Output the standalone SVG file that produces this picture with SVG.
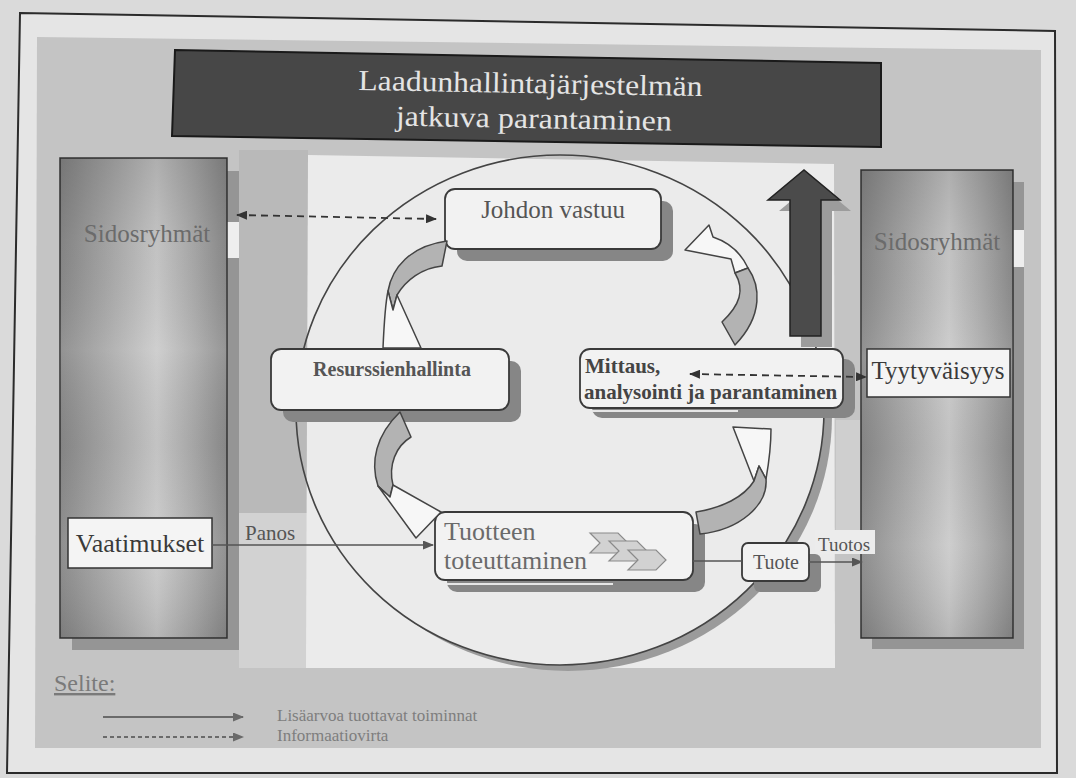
<svg xmlns="http://www.w3.org/2000/svg" width="1076" height="778" viewBox="0 0 1076 778">
  <defs>
    <style>
      .lbl { font-family: "Liberation Serif", "Times New Roman", serif; }
      .box { fill: #f2f2f2; stroke: #3a3a3a; stroke-width: 1.8; }
      .shadow { fill: #868686; }
      .plain { fill: #f4f4f4; stroke: #333; stroke-width: 1.5; }
      .flow { fill: none; stroke: #555; stroke-width: 1.6; }
      .info { fill: none; stroke: #333; stroke-width: 1.8; stroke-dasharray: 7 5; }
      .band-gray { fill: #b3b3b3; stroke: #444; stroke-width: 1.5; stroke-linejoin: round; }
      .band-white { fill: #f7f7f7; stroke: #444; stroke-width: 1.5; stroke-linejoin: round; }
      .chev { fill: #d2d2d2; stroke: #8a8a8a; stroke-width: 1.2; }
    </style>
    <linearGradient id="pillarH" x1="0" y1="0" x2="1" y2="0">
      <stop offset="0" stop-color="#898989"/>
      <stop offset="0.3" stop-color="#ababab"/>
      <stop offset="0.58" stop-color="#cbcbcb"/>
      <stop offset="0.8" stop-color="#acacac"/>
      <stop offset="1" stop-color="#8c8c8c"/>
    </linearGradient>
    <linearGradient id="pillarV" x1="0" y1="0" x2="0" y2="1">
      <stop offset="0" stop-color="#000" stop-opacity="0.14"/>
      <stop offset="0.18" stop-color="#000" stop-opacity="0.04"/>
      <stop offset="0.4" stop-color="#fff" stop-opacity="0.08"/>
      <stop offset="0.6" stop-color="#000" stop-opacity="0.04"/>
      <stop offset="0.8" stop-color="#fff" stop-opacity="0.05"/>
      <stop offset="1" stop-color="#000" stop-opacity="0.1"/>
    </linearGradient>
    <marker id="headFlow" viewBox="0 0 11 9" refX="10" refY="4.5" markerWidth="11" markerHeight="9" markerUnits="userSpaceOnUse" orient="auto-start-reverse">
      <path d="M0,0 L11,4.5 L0,9 Z" fill="#555"/>
    </marker>
    <marker id="headInfo" viewBox="0 0 11 9" refX="10" refY="4.5" markerWidth="11" markerHeight="9" markerUnits="userSpaceOnUse" orient="auto-start-reverse">
      <path d="M0,0 L11,4.5 L0,9 Z" fill="#333"/>
    </marker>
    <marker id="headLegend" viewBox="0 0 11 9" refX="10" refY="4.5" markerWidth="11" markerHeight="9" markerUnits="userSpaceOnUse" orient="auto">
      <path d="M0,0 L11,4.5 L0,9 Z" fill="#6a6a6a"/>
    </marker>
    <path id="chevron" d="M0,0 H28 L38,10 L28,20 H0 L10,10 Z"/>
    <mask id="ringCut">
      <rect x="0" y="0" width="1076" height="778" fill="#fff"/>
      <ellipse cx="560" cy="410" rx="264" ry="255" fill="#000"/>
    </mask>
    <clipPath id="lowerHalf">
      <rect x="0" y="400" width="1076" height="378"/>
    </clipPath>
  </defs>

  <!-- page and slide background -->
  <rect x="0" y="0" width="1076" height="778" fill="#dadada"/>
  <polygon points="20,13 1055,31 1057,773 7,773" fill="#e5e5e5" stroke="#2b2b2b" stroke-width="2"/>
  <polygon points="37,37 1041,50 1041,748 35,748" fill="#c4c4c4"/>
  <rect x="239" y="150" width="69" height="363" fill="#b9b9b9"/>
  <rect x="239" y="513" width="69" height="155" fill="#d2d2d2"/>
  <rect x="836" y="420" width="25" height="110" fill="#cfcfcf"/>
  <polygon points="308,155 834,164 835,668 306,668" fill="#ebebeb"/>

  <!-- title banner -->
  <g id="title">
    <polygon points="175,50 881,63 881,147 172,136" fill="#474747" stroke="#1a1a1a" stroke-width="2"/>
    <g class="lbl" font-size="29" fill="#e4e4e4" text-anchor="middle" transform="rotate(1 530 110)">
      <text x="530" y="93" textLength="344" lengthAdjust="spacingAndGlyphs">Laadunhallintajärjestelmän</text>
      <text x="534" y="128" textLength="276" lengthAdjust="spacingAndGlyphs">jatkuva parantaminen</text>
    </g>
  </g>

  <!-- process cycle ring with its shadow -->
  <g id="cycle-ring">
    <g clip-path="url(#lowerHalf)">
      <ellipse cx="568" cy="416" rx="264" ry="255" fill="#9b9b9b" mask="url(#ringCut)"/>
    </g>
    <ellipse cx="560" cy="410" rx="264" ry="255" fill="none" stroke="#444" stroke-width="1.6"/>
  </g>

  <!-- stakeholders, left -->
  <g id="stakeholders-left">
    <rect x="72" y="171" width="167" height="479" fill="#959595"/>
    <rect x="227" y="222" width="12" height="36" fill="#eeeeee"/>
    <rect x="60" y="158" width="167" height="480" fill="url(#pillarH)" stroke="#333" stroke-width="1.5"/>
    <rect x="60" y="158" width="167" height="480" fill="url(#pillarV)"/>
    <text class="lbl" x="147" y="242" font-size="25" fill="#6b6b6b" text-anchor="middle">Sidosryhmät</text>
  </g>
  <g id="requirements">
    <rect class="plain" x="68" y="518" width="144" height="50"/>
    <text class="lbl" x="140" y="552" font-size="26" fill="#3a3a3a" text-anchor="middle">Vaatimukset</text>
  </g>

  <!-- stakeholders, right -->
  <g id="stakeholders-right">
    <rect x="872" y="182" width="152" height="467" fill="#959595"/>
    <rect x="1013" y="230" width="11" height="37" fill="#eeeeee"/>
    <rect x="861" y="170" width="152" height="468" fill="url(#pillarH)" stroke="#333" stroke-width="1.5"/>
    <rect x="861" y="170" width="152" height="468" fill="url(#pillarV)"/>
    <text class="lbl" x="937" y="250" font-size="25" fill="#6b6b6b" text-anchor="middle">Sidosryhmät</text>
  </g>
  <g id="satisfaction">
    <rect class="plain" x="867" y="349" width="143" height="48"/>
    <text class="lbl" x="938" y="379" font-size="25" fill="#3a3a3a" text-anchor="middle">Tyytyväisyys</text>
  </g>

  <!-- continual improvement arrow -->
  <g id="improvement-arrow">
    <polygon points="801,347 801,211 779,211 815,181 851,211 832,211 832,347" fill="#9c9c9c"/>
    <polygon points="790,336 790,200 768,200 804,170 840,200 821,200 821,336" fill="#4b4b4b" stroke="#222" stroke-width="1.5"/>
  </g>

  <!-- process boxes -->
  <g id="management">
    <rect class="shadow" x="457" y="201" width="216" height="60" rx="10"/>
    <rect class="box" x="445" y="189" width="216" height="60" rx="10"/>
    <text class="lbl" x="553" y="218" font-size="25" fill="#555" text-anchor="middle">Johdon vastuu</text>
  </g>
  <g id="resources">
    <rect class="shadow" x="283" y="361" width="238" height="61" rx="10"/>
    <rect class="box" x="271" y="349" width="238" height="61" rx="10"/>
    <text class="lbl" x="392" y="376" font-size="20" font-weight="bold" fill="#555" text-anchor="middle">Resurssienhallinta</text>
  </g>
  <g id="measurement">
    <rect class="shadow" x="592" y="359" width="263" height="59" rx="10"/>
    <rect x="592" y="410" width="146" height="2" fill="#e6e6e6"/>
    <rect class="box" x="580" y="349" width="263" height="59" rx="10"/>
    <text class="lbl" font-size="21" font-weight="bold" fill="#444">
      <tspan x="585" y="373">Mittaus,</tspan>
      <tspan x="584" y="399">analysointi ja parantaminen</tspan>
    </text>
  </g>
  <g id="realization">
    <rect class="shadow" x="447" y="524" width="258" height="68" rx="10"/>
    <rect x="447" y="583" width="166" height="2" fill="#e6e6e6"/>
    <rect class="box" x="435" y="512" width="258" height="68" rx="10"/>
    <text class="lbl" font-size="26" fill="#6a6a6a">
      <tspan x="444" y="540">Tuotteen</tspan>
      <tspan x="444" y="569">toteuttaminen</tspan>
    </text>
    <use href="#chevron" class="chev" x="590" y="533"/>
    <use href="#chevron" class="chev" x="609" y="541"/>
    <use href="#chevron" class="chev" x="628" y="550"/>
  </g>
  <g id="product">
    <rect class="shadow" x="754" y="554" width="67" height="38" rx="6"/>
    <rect class="box" x="742" y="543" width="67" height="38" rx="6"/>
    <text class="lbl" x="776" y="569" font-size="20" fill="#555" text-anchor="middle">Tuote</text>
  </g>

  <!-- curved cycle arrows -->
  <g id="cycle-arrows">
    <!-- resources to management -->
    <path class="band-gray" d="M388,291 C392,268 410,246 447,241 L442,266 C422,268 406,280 397,295 L393,310 Z"/>
    <path class="band-white" d="M383,348 L421,348 L397,295 L393,310 L388,291 C385,305 384,325 383,348 Z"/>
    <!-- management to measurement -->
    <path class="band-white" d="M685,250 L709,225 L713,237 C728,242 741,253 748,268 L735,273 L731,259 Z"/>
    <path class="band-gray" d="M748,268 C760,285 764,315 735,345 L722,322 C740,305 745,290 735,273 Z"/>
    <!-- measurement to realization -->
    <path class="band-white" d="M733,427 L771,429 C771,446 769,462 766,479 L759,466 L754,481 Z"/>
    <path class="band-gray" d="M766,479 C768,505 740,530 700,534 L696,512 C722,508 744,497 754,481 L759,466 Z"/>
    <!-- realization to resources -->
    <path class="band-gray" d="M400,412 L411,437 C396,446 388,465 393,485 L390,497 L378,486 C370,462 376,435 400,412 Z"/>
    <path class="band-white" d="M378,486 L390,497 L393,485 L441,512 L416,538 Z"/>
  </g>

  <!-- connectors -->
  <g id="connectors">
    <path class="info" d="M237,215 L436,219" marker-start="url(#headInfo)" marker-end="url(#headInfo)"/>
    <path class="info" d="M690,374 L866,377" marker-start="url(#headInfo)" marker-end="url(#headInfo)"/>
    <path class="flow" d="M212,545 H433" marker-end="url(#headFlow)"/>
    <text class="lbl" x="245" y="540" font-size="21" fill="#555">Panos</text>
    <path class="flow" d="M693,561 H742"/>
    <path class="flow" d="M809,562 H862" marker-end="url(#headFlow)"/>
    <rect x="815" y="530" width="60" height="24" fill="#ececec"/>
    <text class="lbl" x="818" y="551" font-size="19" fill="#555">Tuotos</text>
  </g>

  <!-- legend -->
  <g id="legend">
    <text class="lbl" x="54" y="691" font-size="24" fill="#7a7a7a" text-decoration="underline">Selite:</text>
    <path d="M103,717 H243" stroke="#6a6a6a" stroke-width="2" fill="none" marker-end="url(#headLegend)"/>
    <text class="lbl" x="277" y="721" font-size="17" fill="#7e7e7e">Lisäarvoa tuottavat toiminnat</text>
    <path d="M103,737 H243" stroke="#6a6a6a" stroke-width="1.8" stroke-dasharray="4 3" fill="none" marker-end="url(#headLegend)"/>
    <text class="lbl" x="277" y="741" font-size="17" fill="#7e7e7e">Informaatiovirta</text>
  </g>
</svg>
